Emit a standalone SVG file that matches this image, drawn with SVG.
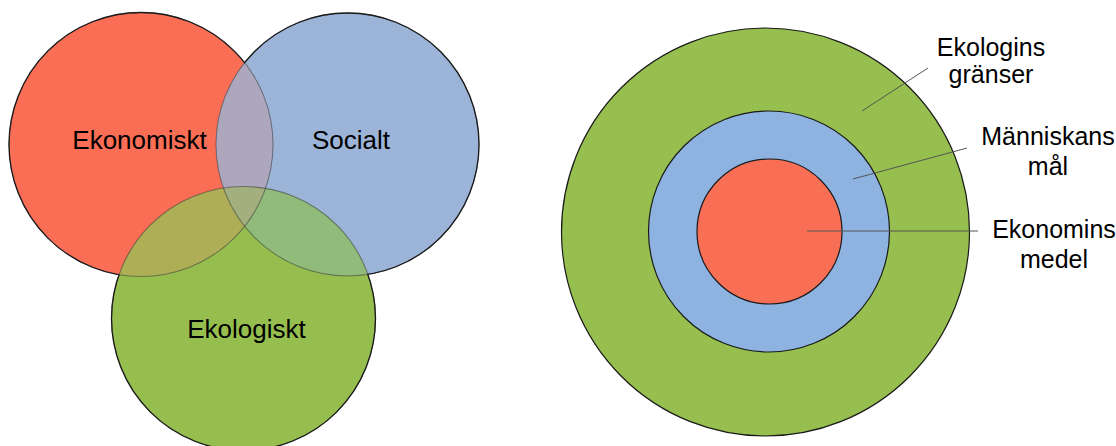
<svg xmlns="http://www.w3.org/2000/svg" width="1116" height="446" viewBox="0 0 1116 446">
<style>
.lbl{font-family:"Liberation Sans",Arial,sans-serif;fill:#000;text-anchor:middle}
.big{font-size:26px}
.sm{font-size:25px}
.ol{fill:none;stroke:#1a1a1a;stroke-width:1.3}
.il{fill:none;stroke:#3a3a3a;stroke-width:1.1;stroke-opacity:0.55}
.lead{stroke:#555;stroke-width:1}
</style>
<defs>
<clipPath id="cR"><circle cx="141" cy="144.5" r="132"/></clipPath>
<clipPath id="cB"><circle cx="347.5" cy="144.5" r="131.5"/></clipPath>
<clipPath id="cG"><circle cx="243.5" cy="318.5" r="132"/></clipPath>
<mask id="mR" maskUnits="userSpaceOnUse" x="0" y="0" width="1116" height="446"><rect width="1116" height="446" fill="#fff"/><circle cx="347.5" cy="144.5" r="131.5" fill="#000"/><circle cx="243.5" cy="318.5" r="132" fill="#000"/></mask>
<mask id="mB" maskUnits="userSpaceOnUse" x="0" y="0" width="1116" height="446"><rect width="1116" height="446" fill="#fff"/><circle cx="141" cy="144.5" r="132" fill="#000"/><circle cx="243.5" cy="318.5" r="132" fill="#000"/></mask>
<mask id="mG" maskUnits="userSpaceOnUse" x="0" y="0" width="1116" height="446"><rect width="1116" height="446" fill="#fff"/><circle cx="141" cy="144.5" r="132" fill="#000"/><circle cx="347.5" cy="144.5" r="131.5" fill="#000"/></mask>
</defs>
<rect width="1116" height="446" fill="#fff"/>

<g id="venn-fills">
<circle cx="141" cy="144.5" r="132" fill="#FA6E55"/>
<circle cx="347.5" cy="144.5" r="131.5" fill="#9CB4D7"/>
<circle cx="243.5" cy="318.5" r="132" fill="#96BE4F"/>
<circle cx="347.5" cy="144.5" r="131.5" fill="#ADA7BE" clip-path="url(#cR)"/>
<g clip-path="url(#cG)">
<circle cx="141" cy="144.5" r="132" fill="#ADAE56"/>
<circle cx="347.5" cy="144.5" r="131.5" fill="#91BB7A"/>
<g clip-path="url(#cR)"><circle cx="347.5" cy="144.5" r="131.5" fill="#A3AF7F"/></g>
</g>
</g>

<g id="venn-ekonomiskt">
<circle class="il" cx="141" cy="144.5" r="132"/>
<circle class="ol" cx="141" cy="144.5" r="132" mask="url(#mR)"/>
<text class="lbl big" x="139.5" y="149">Ekonomiskt</text>
</g>
<g id="venn-socialt">
<circle class="il" cx="347.5" cy="144.5" r="131.5"/>
<circle class="ol" cx="347.5" cy="144.5" r="131.5" mask="url(#mB)"/>
<text class="lbl big" x="351" y="149">Socialt</text>
</g>
<g id="venn-ekologiskt">
<circle class="il" cx="243.5" cy="318.5" r="132"/>
<circle class="ol" cx="243.5" cy="318.5" r="132" mask="url(#mG)"/>
<text class="lbl big" x="246.5" y="338">Ekologiskt</text>
</g>

<g id="ring-ekologins">
<circle cx="765.5" cy="232" r="204" fill="#96BF4F" stroke="#1a1a1a" stroke-width="1.2"/>
<text class="lbl sm" x="991" y="56">Ekologins</text>
<text class="lbl sm" x="991" y="83">gränser</text>
</g>
<g id="ring-manniskans">
<circle cx="769" cy="231.5" r="120.5" fill="#8EB3E0" stroke="#1a1a1a" stroke-width="1.2"/>
<text class="lbl sm" x="1048" y="145">Människans</text>
<text class="lbl sm" x="1048" y="175">mål</text>
</g>
<g id="ring-ekonomins">
<circle cx="769.5" cy="231.5" r="72.5" fill="#F96F56" stroke="#1a1a1a" stroke-width="1.2"/>
<text class="lbl sm" x="1054" y="238">Ekonomins</text>
<text class="lbl sm" x="1054" y="268">medel</text>
</g>

<g id="connectors">
<line class="lead" x1="862" y1="111" x2="928" y2="68"/>
<line class="lead" x1="853" y1="179" x2="967" y2="148"/>
<line class="lead" x1="807" y1="231" x2="978" y2="231"/>
</g>
</svg>
